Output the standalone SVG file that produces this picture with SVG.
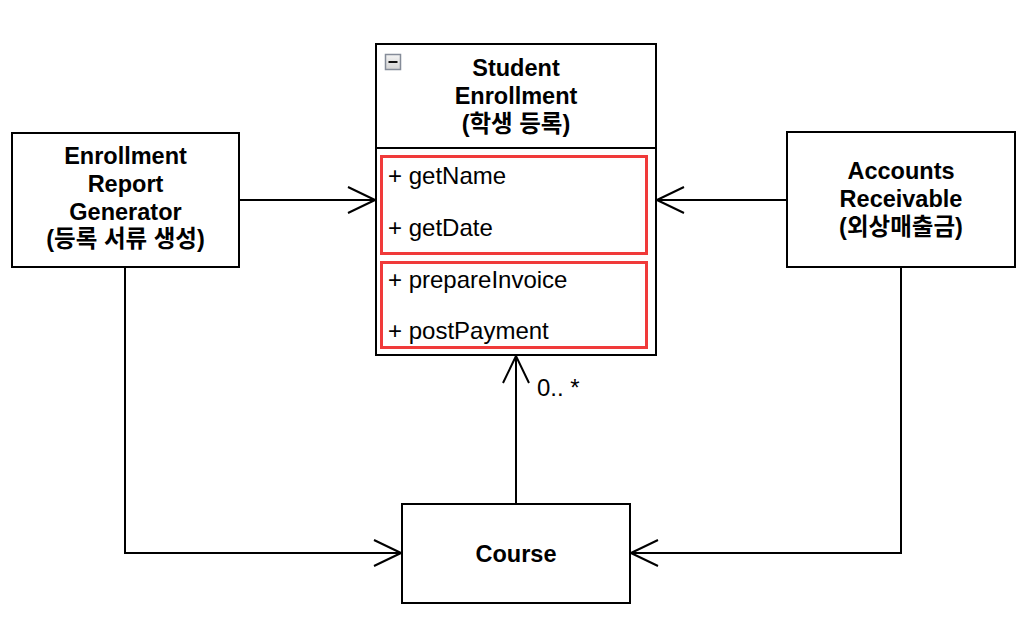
<svg xmlns="http://www.w3.org/2000/svg" width="1034" height="620" viewBox="0 0 1034 620">
<style>
.box{fill:#fff;stroke:#000;stroke-width:2}
.red{fill:none;stroke:#f03a3a;stroke-width:3}
.t{font-family:"Liberation Sans","Noto Sans CJK KR",sans-serif;font-size:24px;fill:#000}
.b{font-weight:bold;text-anchor:middle;font-size:23.5px}
.ln{fill:none;stroke:#000;stroke-width:2}
</style>
<defs>
<marker id="open" viewBox="0 0 32 30" refX="30" refY="15" markerWidth="32" markerHeight="30" markerUnits="userSpaceOnUse" orient="auto">
<path d="M3,2 L30,15 L3,28" fill="none" stroke="#000" stroke-width="2"/>
</marker>
<linearGradient id="ig" x1="0" y1="0" x2="0" y2="1">
<stop offset="0" stop-color="#f4f4f4"/>
<stop offset="1" stop-color="#d4d4d4"/>
</linearGradient>
</defs>
<rect width="1034" height="620" fill="#fff"/>
<g id="connectors">
<path class="ln" d="M239,200 H375" marker-end="url(#open)"/>
<path class="ln" d="M787,200 H657" marker-end="url(#open)"/>
<path class="ln" d="M516,504 V356" marker-end="url(#open)"/>
<path class="ln" d="M125,267 V553 H401" marker-end="url(#open)"/>
<path class="ln" d="M901,267 V553 H631" marker-end="url(#open)"/>
<text class="t" x="537" y="396">0.. *</text>
</g>
<g id="student-enrollment">
<rect class="box" x="376" y="44" width="280" height="311"/>
<line class="ln" x1="376" y1="148" x2="656" y2="148"/>
<rect x="385.5" y="54.5" width="15" height="15" fill="url(#ig)" stroke="#858c99" stroke-width="1.5"/>
<line x1="388.5" y1="62" x2="397.5" y2="62" stroke="#111" stroke-width="2"/>
<text class="t b" x="516" y="76">Student</text>
<text class="t b" x="516" y="104">Enrollment</text>
<text class="t b" x="516" y="132">(학생 등록)</text>
<rect class="red" x="381.5" y="156.5" width="265" height="97"/>
<rect class="red" x="381.5" y="262.5" width="265" height="85"/>
<text class="t" x="388" y="184">+ getName</text>
<text class="t" x="388" y="236">+ getDate</text>
<text class="t" x="388" y="288">+ prepareInvoice</text>
<text class="t" x="388" y="339">+ postPayment</text>
</g>
<g id="report-generator">
<rect class="box" x="12" y="133" width="227" height="134"/>
<text class="t b" x="125.5" y="164">Enrollment</text>
<text class="t b" x="125.5" y="192">Report</text>
<text class="t b" x="125.5" y="220">Generator</text>
<text class="t b" x="125.5" y="247">(등록 서류 생성)</text>
</g>
<g id="accounts-receivable">
<rect class="box" x="787" y="132" width="228" height="135"/>
<text class="t b" x="901" y="179">Accounts</text>
<text class="t b" x="901" y="207">Receivable</text>
<text class="t b" x="901" y="235">(외상매출금)</text>
</g>
<g id="course">
<rect class="box" x="402" y="504" width="228" height="99"/>
<text class="t b" x="516" y="562">Course</text>
</g>
</svg>
